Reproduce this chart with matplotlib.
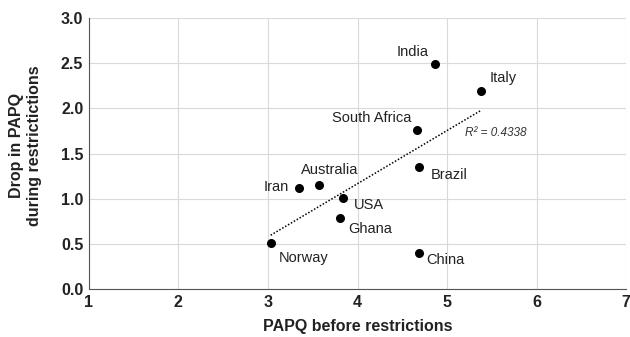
import matplotlib.pyplot as plt
import numpy as np

plt.rcParams['font.family'] = ['Liberation Sans', 'DejaVu Sans']

countries = ["India", "Italy", "South Africa", "Brazil", "Iran", "Australia",
             "USA", "Ghana", "Norway", "China"]
papq_before = [4.87, 5.38, 4.66, 4.69, 3.35, 3.57, 3.84, 3.80, 3.03, 4.69]
papq_drop = [2.49, 2.19, 1.76, 1.35, 1.12, 1.15, 1.01, 0.79, 0.51, 0.40]
r2_text = "R² = 0.4338"

# label offsets in pixels and alignment for each country
label_offsets = {
    "India": ((-7, 12), "right"),
    "Italy": ((9, 13), "left"),
    "South Africa": ((-5, 12), "right"),
    "Brazil": ((11, -8), "left"),
    "Iran": ((-10, 1), "right"),
    "Australia": ((11, 15), "center"),
    "USA": ((11, -7), "left"),
    "Ghana": ((9, -11), "left"),
    "Norway": ((8, -15), "left"),
    "China": ((7, -7), "left"),
}

fig = plt.figure(figsize=(6.3, 3.37), dpi=100)
ax = fig.add_axes([0.141, 0.142, 0.853, 0.805])

x = np.array(papq_before)
y = np.array(papq_drop)

m, b = np.polyfit(x, y, 1)
xs = np.array([x.min(), x.max()])
ax.plot(xs, m * xs + b, color="black", linestyle=(0, (1, 1.2)), linewidth=1.1, zorder=2)

ax.scatter(x, y, s=30, color="black", zorder=3)

for name, xv, yv in zip(countries, papq_before, papq_drop):
    (dx, dy), ha = label_offsets[name]
    ax.annotate(name, (xv, yv), xytext=(dx, dy), textcoords="offset pixels",
                ha=ha, va="center", fontsize=10.5, color="#222222")

ax.text(5.2, 1.73, r2_text, fontsize=8.5, style="italic", color="#333333",
        ha="left", va="center")

ax.set_xlim(1, 7)
ax.set_ylim(0, 3)
ax.set_xticks(range(1, 8))
ax.set_yticks(np.arange(0, 3.01, 0.5))
ax.set_yticklabels([f"{v:.1f}" for v in np.arange(0, 3.01, 0.5)])
ax.grid(True, color="#d9d9d9", linewidth=0.8)
ax.set_axisbelow(True)

for side in ["top", "right"]:
    ax.spines[side].set_visible(False)
ax.spines["left"].set_color("#555555")
ax.spines["bottom"].set_color("#555555")
ax.tick_params(length=0, labelsize=11.5, pad=4, colors="#222222")
for lbl in ax.get_xticklabels() + ax.get_yticklabels():
    lbl.set_fontweight("bold")

ax.set_xlabel("PAPQ before restrictions", fontsize=11.5, fontweight="bold",
              color="#222222", labelpad=7)
ax.set_ylabel("Drop in PAPQ\nduring restrictictions", fontsize=11.5,
              fontweight="bold", color="#222222")
ax.yaxis.set_label_coords(-0.088, 0.53)

fig.savefig("out.png", dpi=100)
